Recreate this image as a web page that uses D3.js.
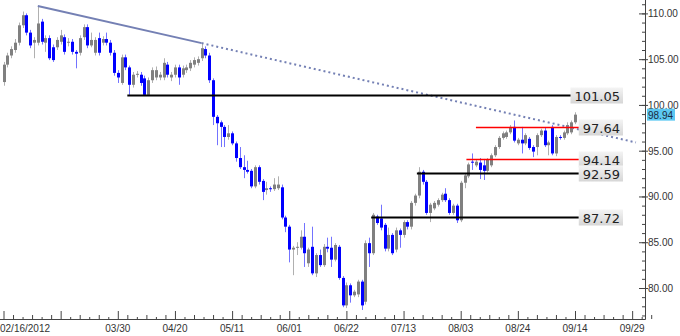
<!DOCTYPE html>
<html>
<head>
<meta charset="utf-8">
<script src="https://cdn.jsdelivr.net/npm/d3@7"></script>
<style>
  body { margin: 0; background: #fff; }
  svg { display: block; }
</style>
</head>
<body>
<div id="chart"></div>
<script>
const w = 680;
const h = 336;

// daily candles, index 0 = 02/16/2012
const open = [102.5,104.4,105.4,106.0,106.8,108.7,109.8,107.9,106.8,106.8,109.1,106.8,107.3,106.3,106.3,106.9,107.4,106.8,106.9,105.8,
  105.7,107.4,108.5,106.5,105.7,107.3,106.8,107.2,106.8,105.7,103.5,102.4,105.2,104.1,102.2,103.3,103.3,102.9,101.1,102.7,
  103.0,103.0,103.0,104.4,103.0,103.3,104.1,103.3,103.8,104.0,104.4,104.6,105.1,106.1,105.4,102.7,98.7,98.1,97.6,96.5,
  96.9,95.8,94.2,93.2,92.9,92.8,91.1,93.2,91.7,90.7,90.9,90.8,90.9,91.0,87.7,86.7,84.2,84.4,84.4,85.6,
  82.7,84.5,81.6,83.6,82.5,84.5,84.4,83.1,84.5,81.1,78.1,80.3,79.2,79.3,80.7,78.5,84.9,83.8,87.8,87.6,
  86.9,84.3,85.8,84.2,86.3,85.8,87.2,86.7,89.3,90.1,92.7,91.6,88.2,88.7,89.1,89.6,90.3,89.6,88.2,89.0,
  87.4,91.5,92.2,93.8,93.4,93.7,93.4,92.8,93.4,94.5,95.4,96.4,96.5,97.0,97.6,95.8,96.2,95.8,96.3,95.4,
  95.4,96.7,97.2,95.6,97.6,94.7,96.5,96.4,96.9,97.0,98.1];
const high = [104.7,105.7,106.4,107.2,109.0,110.2,110.0,108.2,107.4,110.7,109.4,107.6,107.6,106.6,107.4,108.2,107.7,107.3,107.2,106.0,
  107.6,108.8,108.8,107.9,107.4,107.9,107.5,107.9,107.1,106.0,103.8,105.5,105.5,104.3,103.6,103.7,103.6,103.2,103.0,104.1,
  104.2,103.6,105.1,104.7,103.6,104.4,104.4,104.3,104.4,104.9,105.2,105.3,106.8,106.4,105.7,102.9,98.9,98.3,97.8,97.8,
  97.1,96.0,95.4,94.5,93.9,93.0,93.4,93.4,91.9,91.6,91.1,92.0,92.2,91.3,87.9,86.9,84.6,85.0,86.3,87.1,
  84.4,86.7,83.8,84.2,84.8,85.5,85.6,84.9,84.7,81.3,80.6,80.5,79.8,80.9,80.9,85.2,85.5,88.2,88.0,89.1,
  87.1,86.6,86.0,86.6,86.5,87.4,87.4,89.5,90.3,93.2,92.9,91.8,89.3,89.5,89.8,90.4,90.9,89.8,89.2,89.2,
  91.7,92.5,93.7,94.7,94.0,94.2,94.1,94.2,94.7,95.6,96.6,97.1,97.2,97.8,98.3,96.4,97.6,96.9,96.5,95.6,
  96.9,97.4,97.5,96.1,97.8,96.7,96.7,97.2,98.1,98.3,99.2];
const low = [102.1,104.1,105.1,105.7,106.5,108.4,107.6,106.2,105.1,106.5,106.6,105.8,104.9,104.7,106.0,106.6,105.5,106.4,105.5,104.0,
  105.4,107.1,106.2,106.3,105.4,105.4,106.5,106.5,105.4,103.2,102.4,102.2,103.8,101.1,101.9,103.0,102.1,101.0,101.0,102.4,
  102.7,102.7,102.7,103.0,102.6,103.0,102.2,103.0,103.5,103.7,104.1,104.3,104.8,105.1,102.4,97.8,95.6,95.4,95.4,96.2,
  95.6,93.8,93.0,92.0,92.5,90.9,90.9,91.3,89.6,90.2,90.5,90.6,90.7,87.5,86.1,82.8,81.4,83.6,84.2,82.3,
  82.3,81.4,81.2,82.3,82.3,83.9,82.3,82.9,80.9,77.9,77.8,78.4,79.0,79.0,77.6,78.2,82.3,83.6,86.9,86.3,
  84.0,84.0,83.6,83.9,84.4,85.5,86.4,86.4,89.0,89.8,91.3,88.0,87.2,88.5,88.9,89.4,89.4,88.0,88.0,87.1,
  87.2,90.9,92.0,92.9,93.2,91.9,91.8,92.6,93.2,94.3,95.2,96.2,96.3,96.8,95.9,95.6,94.7,95.6,95.1,94.3,
  94.5,96.5,95.4,94.5,94.5,94.4,96.2,96.2,96.7,96.8,97.9];
const close = [104.4,105.4,106.1,106.8,108.7,109.8,107.9,106.5,107.1,108.9,106.9,107.3,105.1,104.9,107.1,107.6,105.8,106.9,105.8,105.6,
  107.3,108.5,106.5,107.1,107.1,105.7,107.2,106.8,105.7,103.5,103.0,105.2,104.1,102.2,103.3,103.4,102.4,101.1,102.7,103.8,
  103.8,103.3,104.6,103.3,103.3,104.1,103.0,104.0,104.1,104.6,104.9,105.0,106.2,105.4,102.7,98.7,98.0,97.6,96.5,96.9,
  95.8,94.2,93.2,92.9,92.7,91.1,93.2,91.6,90.5,90.9,90.8,91.3,91.3,87.7,86.7,84.2,84.4,84.5,85.6,83.8,
  84.2,81.6,83.6,82.5,84.5,84.3,83.1,84.7,81.1,78.1,80.3,79.2,79.6,80.7,78.1,84.9,83.8,88.0,87.1,86.6,
  84.3,85.8,83.8,86.3,85.8,87.2,86.7,89.3,90.1,92.7,91.6,88.2,89.1,89.3,89.6,90.2,89.6,88.2,89.0,87.4,
  91.5,92.3,93.5,93.7,93.8,92.9,92.8,94.0,94.5,95.4,96.4,96.9,97.0,97.6,96.1,96.2,95.8,96.7,95.3,94.9,
  96.7,97.2,95.6,95.9,94.7,96.5,96.4,97.0,97.8,98.1,98.94];

// support / resistance levels: value, first candle index, colour kind
const levelValues = [101.05, 97.64, 94.14, 92.59, 87.72];
const levelStart = [32.5, 124, 121.5, 108.5, 96.5];
const levelKind = ['black', 'red', 'red', 'black', 'black'];
const levelEnd = 151;

// trendline: [index, price]
const trendSolid = [[9, 110.8], [52, 106.75]];
const trendDotted = [[52, 106.75], [166, 95.9]];

const lastPrice = 98.94;

const xTickIdx = [0, 15, 30, 45, 60, 75, 90, 105, 120, 135, 150, 165];
const xTickLabels = ['02/16/2012', '', '03/30', '04/20', '05/11', '06/01', '06/22', '07/13', '08/03', '08/24', '09/14', '09/29'];
const yTicks = [80, 85, 90, 95, 100, 105, 110];

const axisX = 645;
const axisY = 319;

const svg = d3.select('#chart')
    .append('svg')
    .attr('width', w)
    .attr('height', h)
    .style('background-color', '#fff');

const xScale = d3.scaleLinear()
    .domain([0, 165])
    .range([3.5, 3.5 + 3.81 * 165]);

const yScale = d3.scaleLinear()
    .domain([80, 110])
    .range([288, 13.4]);

const data = open.map((o, i) => ({ i: i, o: o, h: high[i], l: low[i], c: close[i] }));

const gradient = svg.append('defs').append('linearGradient')
    .attr('id', 'boxgrad')
    .attr('x1', 0).attr('y1', 0).attr('x2', 0).attr('y2', 1);
gradient.append('stop').attr('offset', '0%').attr('stop-color', '#f4f4f4');
gradient.append('stop').attr('offset', '100%').attr('stop-color', '#d6d6d6');

// wicks
svg.selectAll('line.wick')
    .data(data)
    .enter()
    .append('line')
    .attr('class', 'wick')
    .attr('x1', d => Math.round(xScale(d.i)) + 0.5)
    .attr('x2', d => Math.round(xScale(d.i)) + 0.5)
    .attr('y1', d => yScale(d.h))
    .attr('y2', d => yScale(d.l))
    .attr('stroke', d => d.c >= d.o ? '#b0b0b0' : '#7373ff')
    .attr('stroke-width', 1);

// bodies
svg.selectAll('rect.body')
    .data(data)
    .enter()
    .append('rect')
    .attr('class', 'body')
    .attr('x', d => Math.round(xScale(d.i)) - 1)
    .attr('width', 3)
    .attr('y', d => yScale(Math.max(d.o, d.c)))
    .attr('height', d => Math.max(1, Math.abs(yScale(d.o) - yScale(d.c))))
    .attr('fill', d => d.c >= d.o ? '#808080' : '#0000ff');

// trendline
const line = d3.line().x(d => xScale(d[0])).y(d => yScale(d[1]));
svg.append('path')
    .attr('d', line(trendDotted))
    .attr('fill', 'none')
    .attr('stroke', '#7480b4')
    .attr('stroke-width', 2)
    .attr('stroke-dasharray', '2,3');
svg.append('path')
    .attr('d', line(trendSolid))
    .attr('fill', 'none')
    .attr('stroke', '#7480b4')
    .attr('stroke-width', 2);

// levels
levelValues.forEach((v, k) => {
    const yy = Math.round(yScale(v)) + 0.5;
    const col = levelKind[k] === 'red' ? '#ff0000' : '#000000';
    svg.append('line')
        .attr('x1', xScale(levelStart[k]))
        .attr('x2', xScale(levelEnd))
        .attr('y1', yy)
        .attr('y2', yy)
        .attr('stroke', col)
        .attr('stroke-width', levelKind[k] === 'red' ? 1.5 : 2);

    const g = svg.append('g');
    const rect = g.append('rect');
    const t = g.append('text')
        .attr('x', 620)
        .attr('y', yy + 5)
        .attr('text-anchor', 'end')
        .style('font-family', 'DejaVu Sans, sans-serif')
        .style('font-size', '13px')
        .attr('fill', '#222')
        .text(d3.format('.2f')(v));
    const tw = t.node().getComputedTextLength();
    rect.attr('x', 620 - tw - 4)
        .attr('y', yy - 8)
        .attr('width', tw + 7)
        .attr('height', 16)
        .attr('fill', 'url(#boxgrad)');
});

// y axis (right side)
const yMinor = d3.range(77, 112, 1);
svg.append('g')
    .attr('transform', 'translate(' + axisX + ',0)')
    .call(d3.axisLeft(yScale).tickValues(yMinor).tickSize(3).tickFormat(''))
    .call(g => g.select('.domain').remove())
    .call(g => g.selectAll('line').attr('stroke', '#444'));
svg.append('g')
    .attr('transform', 'translate(' + (axisX + 3) + ',0)')
    .call(d3.axisLeft(yScale).tickValues(yTicks).tickSize(9).tickFormat(''))
    .call(g => g.select('.domain').remove())
    .call(g => g.selectAll('line').attr('stroke', '#444'));
svg.selectAll('text.ylab')
    .data(yTicks)
    .enter()
    .append('text')
    .attr('class', 'ylab')
    .attr('x', axisX + 3)
    .attr('y', d => yScale(d) + 4)
    .style('font-family', 'Liberation Sans, Arial, sans-serif')
    .style('font-size', '10px')
    .attr('fill', '#333')
    .text(d => d3.format('.2f')(d));

// last price tag
svg.append('rect')
    .attr('x', axisX + 2)
    .attr('y', yScale(lastPrice) - 6)
    .attr('width', 28)
    .attr('height', 12)
    .attr('fill', '#5cc8f2');
svg.append('text')
    .attr('x', axisX + 3)
    .attr('y', yScale(lastPrice) + 4)
    .style('font-family', 'Liberation Sans, Arial, sans-serif')
    .style('font-size', '10px')
    .attr('fill', '#1a2a40')
    .text(d3.format('.2f')(lastPrice));

// x axis
const xMinor = [];
for (let k = 0; k < xTickIdx.length - 1; k++) {
    for (let m = 1; m < 6; m++) xMinor.push(xTickIdx[k] + m * 2.5);
}
xMinor.push(167.5, 170);
svg.append('g')
    .attr('transform', 'translate(0,' + axisY + ')')
    .call(d3.axisTop(xScale).tickValues(xMinor.filter((d, i) => i % 2 === 0)).tickSize(4).tickFormat(''))
    .call(g => g.select('.domain').remove())
    .call(g => g.selectAll('line').attr('stroke', '#444'));
svg.append('g')
    .attr('transform', 'translate(0,' + axisY + ')')
    .call(d3.axisTop(xScale).tickValues(xMinor.filter((d, i) => i % 2 === 1)).tickSize(2).tickFormat(''))
    .call(g => g.select('.domain').remove())
    .call(g => g.selectAll('line').attr('stroke', '#444'));
svg.append('g')
    .attr('transform', 'translate(0,' + axisY + ')')
    .call(d3.axisTop(xScale).tickValues(xTickIdx).tickSize(8).tickFormat(''))
    .call(g => g.select('.domain').remove())
    .call(g => g.selectAll('line').attr('stroke', '#444'));
svg.selectAll('text.xlab')
    .data(xTickIdx)
    .enter()
    .append('text')
    .attr('class', 'xlab')
    .attr('x', (d, i) => i === 0 ? 0 : xScale(d))
    .attr('y', 332)
    .attr('text-anchor', (d, i) => i === 0 ? 'start' : 'middle')
    .style('font-family', 'Liberation Sans, Arial, sans-serif')
    .style('font-size', '10px')
    .attr('fill', '#333')
    .text((d, i) => xTickLabels[i]);

// frame lines
svg.append('line')
    .attr('x1', 0).attr('x2', axisX + 0.5)
    .attr('y1', axisY + 0.5).attr('y2', axisY + 0.5)
    .attr('stroke', '#444');
svg.append('line')
    .attr('x1', axisX + 0.5).attr('x2', axisX + 0.5)
    .attr('y1', 0).attr('y2', axisY + 0.5)
    .attr('stroke', '#444');
</script>
</body>
</html>
